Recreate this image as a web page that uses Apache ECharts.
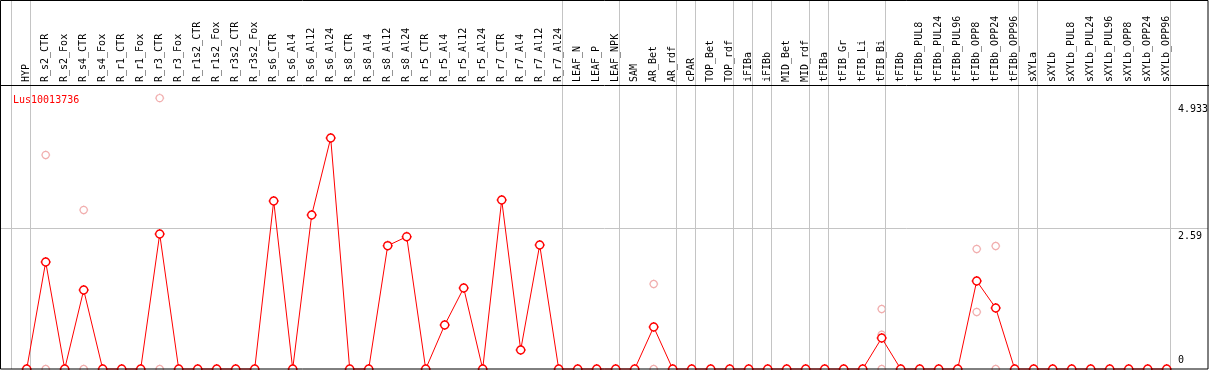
<!DOCTYPE html>
<html><head><meta charset="utf-8">
<script src="https://cdn.jsdelivr.net/npm/echarts@6/dist/echarts.min.js"></script>
<style>html,body{margin:0;padding:0;background:#fff}#c{width:1209px;height:370px}</style>
</head><body><div id="c"></div>
<script>
const geneName = 'Lus10013736';
const categories = ['HYP','R_s2_CTR','R_s2_Fox','R_s4_CTR','R_s4_Fox','R_r1_CTR','R_r1_Fox','R_r3_CTR','R_r3_Fox',
  'R_r1s2_CTR','R_r1s2_Fox','R_r3s2_CTR','R_r3s2_Fox','R_s6_CTR','R_s6_Al4','R_s6_Al12','R_s6_Al24',
  'R_s8_CTR','R_s8_Al4','R_s8_Al12','R_s8_Al24','R_r5_CTR','R_r5_Al4','R_r5_Al12','R_r5_Al24',
  'R_r7_CTR','R_r7_Al4','R_r7_Al12','R_r7_Al24','LEAF_N','LEAF_P','LEAF_NPK','SAM','AR_Bet','AR_rdf',
  'cPAR','TOP_Bet','TOP_rdf','iFIBa','iFIBb','MID_Bet','MID_rdf','tFIBa','tFIB_Gr','tFIB_Li','tFIB_Bi',
  'tFIBb','tFIBb_PUL8','tFIBb_PUL24','tFIBb_PUL96','tFIBb_OPP8','tFIBb_OPP24','tFIBb_OPP96',
  'sXYLa','sXYLb','sXYLb_PUL8','sXYLb_PUL24','sXYLb_PUL96','sXYLb_OPP8','sXYLb_OPP24','sXYLb_OPP96'];
const meanValues = [0,1.967,0,1.452,0,0,0,2.482,0,0,0,0,0,3.088,0,2.831,4.246,0,0,2.267,2.432,0,0.809,1.489,0,
  3.107,0.349,2.279,0,0,0,0,0,0.772,0,0,0,0,0,0,0,0,0,0,0,0.570,0,0,0,0,1.618,1.121,0,0,0,0,0,0,0,0,0];
const replicateCategory = [1,1,3,3,7,7,33,33,45,45,45,50,50,51,51];
const replicateValues = [3.934,0,2.923,0,4.98,0,1.5625,0,1.103,0.63,0,2.206,1.048,2.261,0];
// group boundaries: a separator is drawn right after these category indices
const groupEnds = [-1,0,28,31,34,35,37,38,39,41,42,45,52,53,60];
const yTickValues = [0,2.59,4.933];
const yTickLabels = ['0','2.59','4.933'];

const FONT = 'DejaVu Sans Mono';
const sym = 'path://M5,0V1M5,9V10M0,5H1M9,5H10' +
  'M1,5C1,2.791 2.791,1 5,1C7.209,1 9,2.791 9,5C9,7.209 7.209,9 5,9C2.791,9 1,7.209 1,5Z';
const chart = echarts.init(document.getElementById('c'), null, {renderer:'canvas'});
const idx = categories.map((_, i) => i);
chart.setOption({
  animation:false,
  backgroundColor:'#fff',
  title:{text:geneName,left:8,top:90,textStyle:{color:'#ff0000',fontFamily:FONT,fontSize:10,fontWeight:'normal'}},
  graphic:[
    {type:'rect',shape:{x:0.5,y:0.5,width:1207.5,height:368.5},style:{fill:null,stroke:'#000',lineWidth:1},z:50,silent:true},
    {type:'line',shape:{x1:0,y1:85.5,x2:1209,y2:85.5},style:{stroke:'#000',lineWidth:1},z:50,silent:true}
  ],
  grid:{left:1,right:1,top:0,bottom:1,outerBoundsMode:'none',containLabel:false},
  xAxis:{type:'value',min:(1-26.7)/19,max:(1208-26.7)/19,position:'top',offset:-85,
    axisLine:{show:false},axisTick:{show:false},splitLine:{show:false},
    axisLabel:{customValues:idx,rotate:90,margin:3,color:'#000',fontFamily:FONT,fontSize:10,
      formatter:v=>categories[Math.round(v)]||''}},
  yAxis:{type:'value',position:'right',min:0,max:369/54.4,
    axisLine:{show:false},axisTick:{show:false},splitLine:{show:false},
    axisLabel:{customValues:yTickValues,inside:true,margin:30,align:'left',verticalAlign:'middle',lineHeight:17,
      color:'#000',fontFamily:FONT,fontSize:10,
      formatter:v=>{const k=yTickValues.indexOf(v);const t=k>=0?yTickLabels[k]:String(v);return v===0?t+'\n ':' \n'+t;}}},
  series:[
    {type:'scatter',name:'replicates',data:replicateCategory.map((c,i)=>[c,replicateValues[i]]),
      symbol:sym,symbolSize:9,itemStyle:{color:'#fff',borderColor:'#ee9a9a',borderWidth:1.2},z:3,
      markLine:{silent:true,symbol:'none',label:{show:false},animation:false,
        lineStyle:{color:'#c4c4c4',width:1,type:'solid'},
        data:[{yAxis:2.59}].concat(groupEnds.map(g=>({xAxis:g+0.19})))}},
    {type:'line',name:geneName,data:idx.map(i=>[i,meanValues[i]]),
      symbol:sym,symbolSize:10,showAllSymbol:true,clip:false,
      lineStyle:{color:'#ff0000',width:1},itemStyle:{color:'#fff',borderColor:'#ff0000',borderWidth:1.4},z:5}
  ]
});
</script></body></html>
